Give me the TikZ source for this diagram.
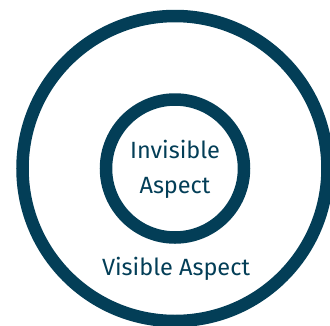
\documentclass[tikz,border=0pt]{standalone}
\usepackage{fontspec}
\setmainfont{Fira Sans}
\usepackage{xcolor}
\usetikzlibrary{positioning}
\definecolor{ringblue}{HTML}{033E57}

\begin{document}
\begin{tikzpicture}[
    x=1pt, y=-1pt,
    ring/.style={draw=ringblue, line width=12.5pt, circle, inner sep=0pt},
    aspect/.style={text=ringblue, font=\fontsize{23.5}{35}\selectfont, align=center, inner sep=0pt},
]
\useasboundingbox (0,0) rectangle (330,325);
\clip (0,0) rectangle (330,325);

% Rings
\node[ring, minimum size=305pt] (outer) at (175,168.5) {};
\node[ring, minimum size=138pt] (inner) at (175,168.5) {};

% Labels
\node[aspect, anchor=base] (invisible) at (175,158) {Invisible};
\node[aspect, anchor=base] (invaspect) at (175,193) {Aspect};
\node[aspect, anchor=base] (visible) at (176,275) {Visible Aspect};

\end{tikzpicture}
\end{document}
